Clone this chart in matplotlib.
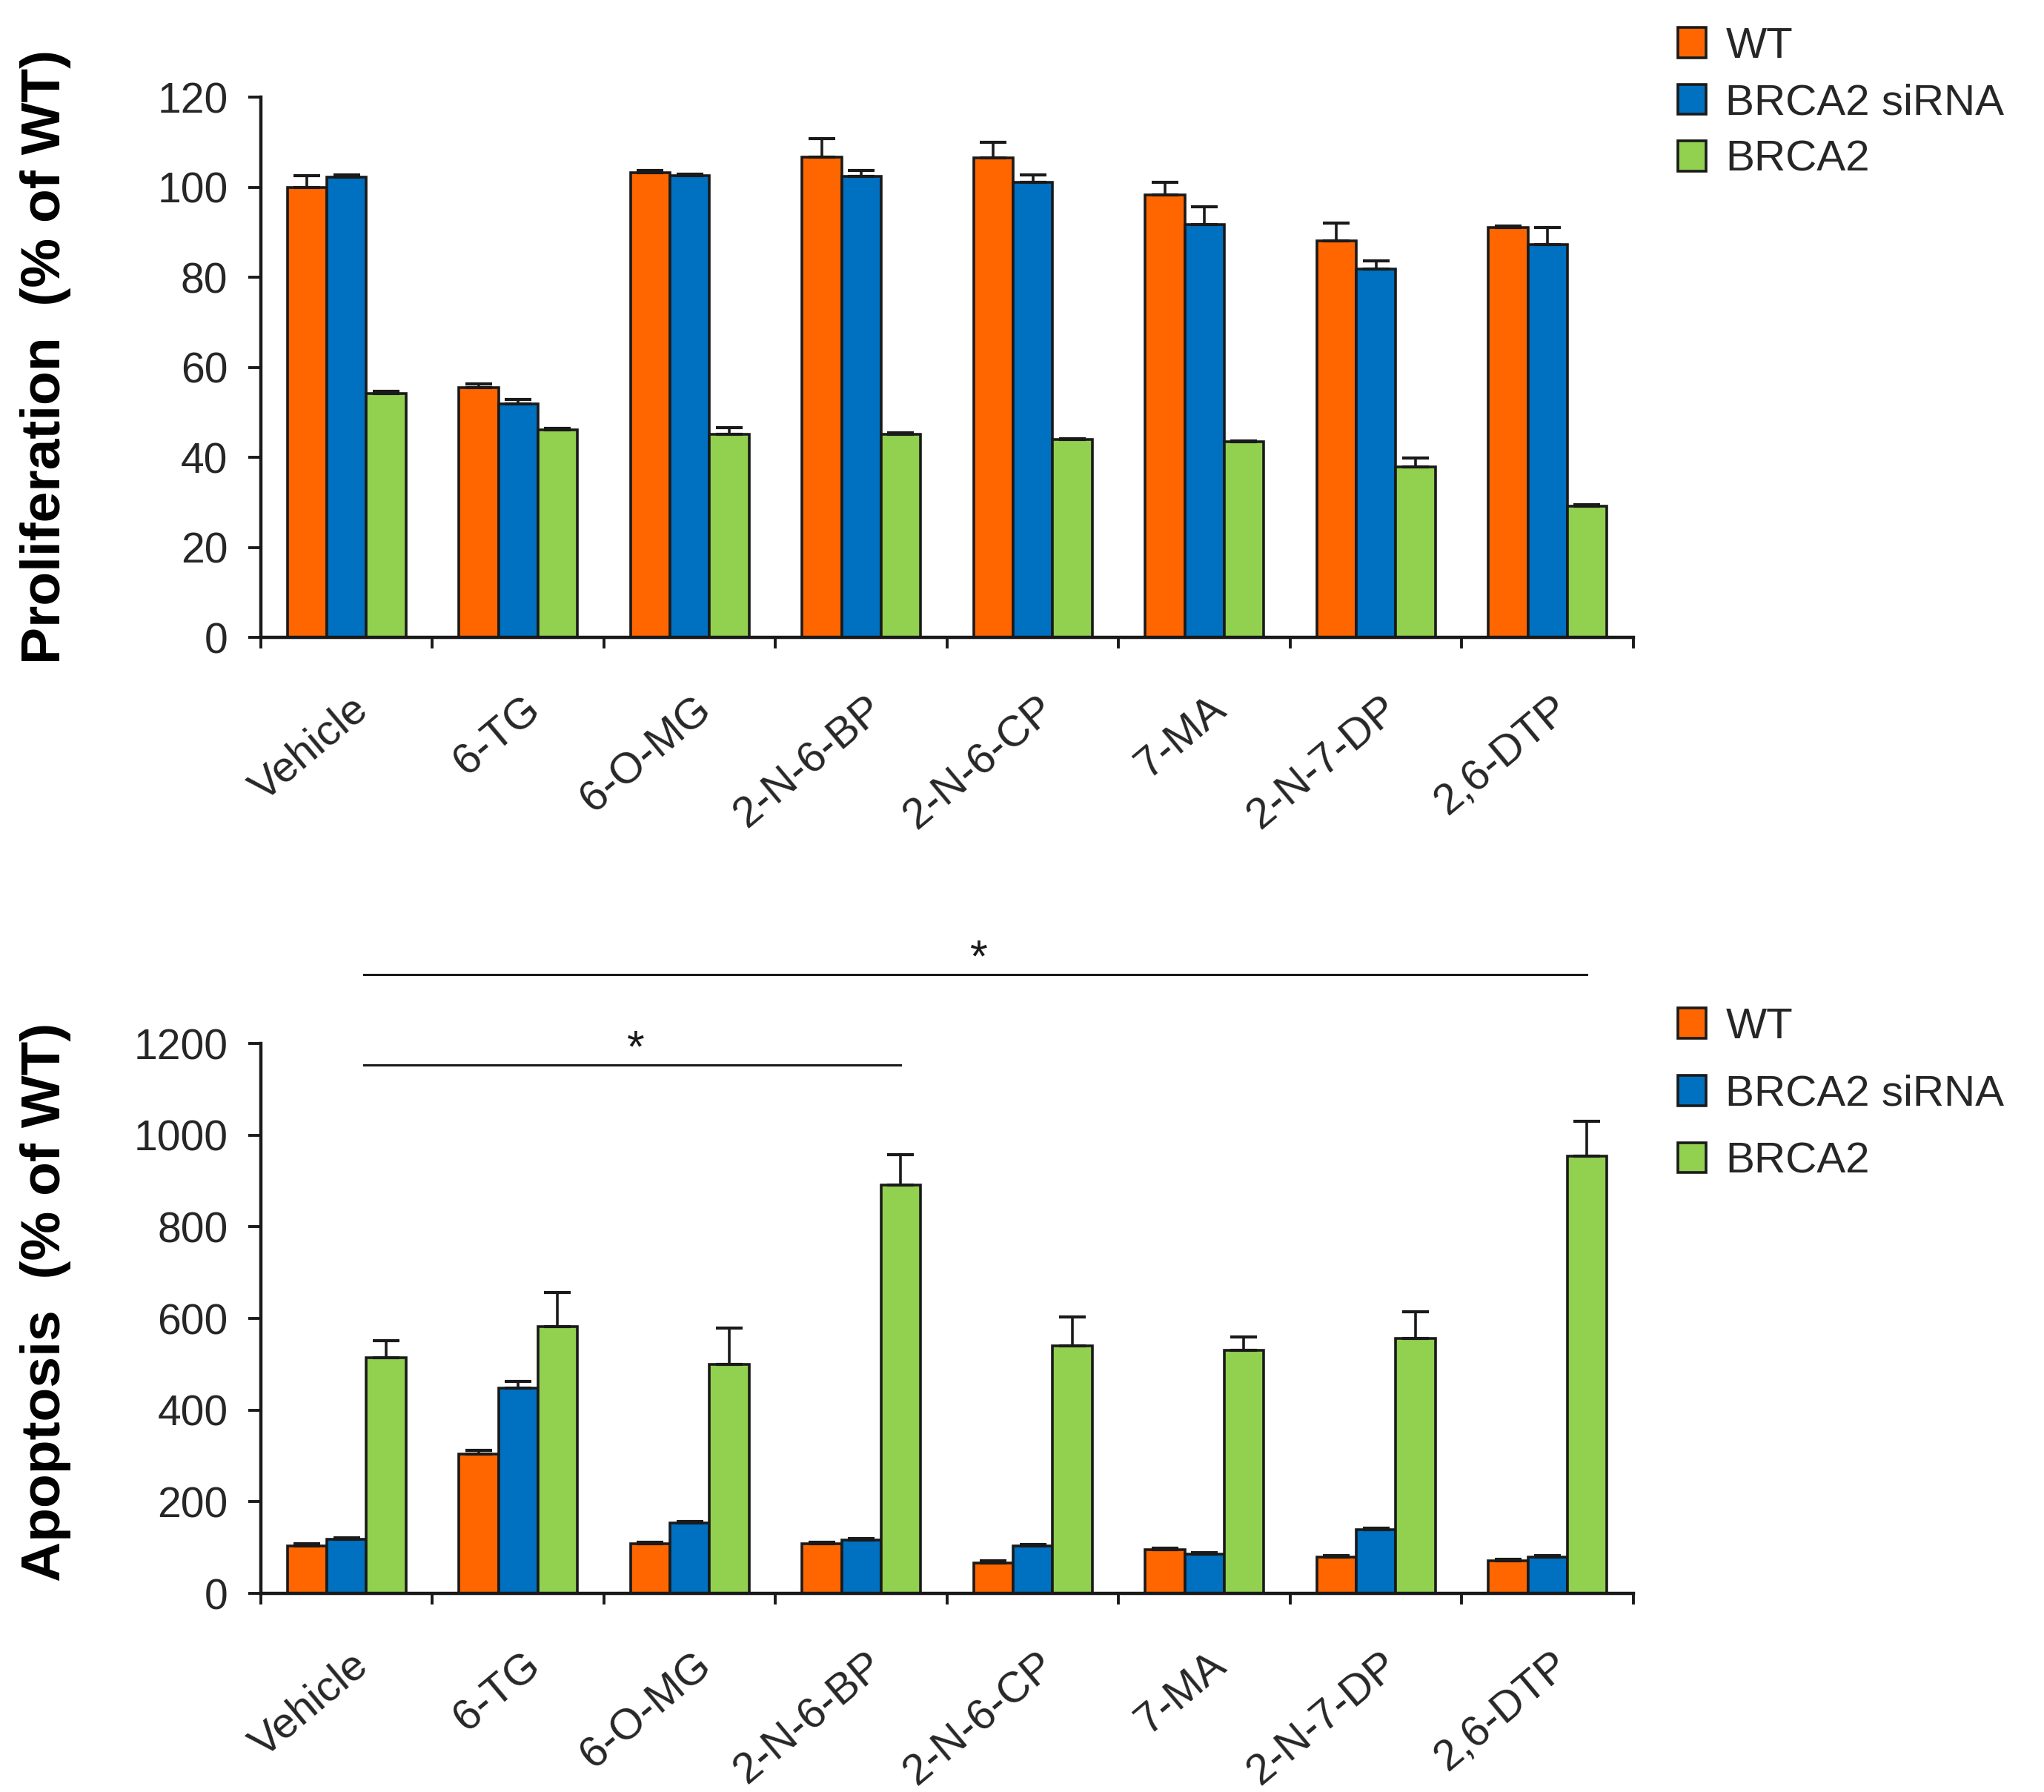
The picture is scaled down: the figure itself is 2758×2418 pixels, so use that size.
import numpy as np
import matplotlib
matplotlib.use("Agg")
import matplotlib.pyplot as plt
from matplotlib.patches import Patch
from matplotlib.transforms import ScaledTranslation

plt.rcParams['font.family'] = ['Liberation Sans', 'DejaVu Sans']

compounds = ["Vehicle", "6-TG", "6-O-MG", "2-N-6-BP", "2-N-6-CP", "7-MA", "2-N-7-DP", "2,6-DTP"]
series = ["WT", "BRCA2 siRNA", "BRCA2"]
colors = ["#FF6600", "#0070C0", "#92D050"]

# proliferation (% of WT)
prolif_wt = [100, 55.5, 103.3, 106.6, 106.5, 98.3, 88.0, 91.0]
prolif_wt_err = [2.6, 0.8, 0.4, 4.2, 3.4, 2.7, 4.1, 0.3]
prolif_si = [102.3, 51.9, 102.5, 102.4, 101.1, 91.7, 81.9, 87.2]
prolif_si_err = [0.5, 1.0, 0.4, 1.3, 1.7, 4.0, 1.7, 3.9]
prolif_br = [54.1, 46.1, 45.1, 45.1, 43.9, 43.4, 37.9, 29.2]
prolif_br_err = [0.6, 0.4, 1.5, 0.3, 0.3, 0.3, 2.0, 0.3]

# apoptosis (% of WT)
apop_wt = [103, 304, 108, 108, 67, 95, 80, 71]
apop_wt_err = [6, 8, 4, 4, 4, 3, 3, 3]
apop_si = [118, 448, 153, 116, 104, 86, 139, 80]
apop_si_err = [4, 15, 4, 3, 3, 3, 3, 3]
apop_br = [515, 582, 500, 891, 540, 530, 557, 955]
apop_br_err = [36, 75, 79, 67, 63, 30, 57, 75]

# significance brackets (apoptosis panel): start group, end group, height
sig_x0 = [0.1, 0.1]
sig_x1 = [3.23, 7.23]
sig_y = [1153, 1351]

fig = plt.figure(figsize=(13.79, 12.09), dpi=200)
ax1 = fig.add_axes([0.1276, 0.6443, 0.6715, 0.3015])
ax2 = fig.add_axes([0.1276, 0.1108, 0.6715, 0.3069])

x = np.arange(len(compounds))
w = 0.23
edge = "#1a1a1a"


def draw_panel(ax, vals, errs, ymax, step, ylabel, ylab_y):
    for k, (v, e) in enumerate(zip(vals, errs)):
        ax.bar(x + (k - 1) * w, v, w, color=colors[k], edgecolor=edge, linewidth=1.3,
               yerr=[np.zeros(len(e)), e], capsize=6.5,
               error_kw=dict(ecolor=edge, elinewidth=1.3, capthick=1.5), zorder=2)
    ax.set_xlim(-0.5, len(compounds) - 0.5)
    ax.set_ylim(0, ymax)
    ax.set_yticks(np.arange(0, ymax + 1, step))
    ax.spines[['top', 'right']].set_visible(False)
    for s in ['left', 'bottom']:
        ax.spines[s].set_linewidth(1.6)
        ax.spines[s].set_color(edge)
    ax.tick_params(axis='y', direction='out', length=6, width=1.4, pad=10,
                   labelsize=20.5, labelcolor='#262626', color=edge)
    ax.set_xticks(x)
    ax.set_xticks(np.arange(-0.5, len(compounds)), minor=True)
    ax.tick_params(axis='x', which='major', length=0, pad=25, labelsize=21,
                   labelcolor='#262626')
    ax.tick_params(axis='x', which='minor', direction='out', length=5.5, width=1.4, color=edge)
    ax.set_xticklabels(compounds, rotation=40, ha='right', va='top', rotation_mode='anchor')
    off = ScaledTranslation(0.025, 0, fig.dpi_scale_trans)
    for lab in ax.get_xticklabels():
        lab.set_transform(lab.get_transform() + off)
    ax.set_ylabel(ylabel, fontsize=27, fontweight='bold', va='center')
    ax.yaxis.set_label_coords(-0.157, ylab_y)


draw_panel(ax1, [prolif_wt, prolif_si, prolif_br], [prolif_wt_err, prolif_si_err, prolif_br_err],
           120, 20, "Proliferation  (% of WT)", 0.52)
draw_panel(ax2, [apop_wt, apop_si, apop_br], [apop_wt_err, apop_si_err, apop_br_err],
           1200, 200, "Apoptosis  (% of WT)", 0.53)

for a, b, yy in zip(sig_x0, sig_x1, sig_y):
    ax2.plot([a, b], [yy, yy], color=edge, lw=1.1, clip_on=False)
    ax2.text((a + b) / 2 + 0.02, yy - 14, "*", ha='center', va='bottom', fontsize=22, color=edge)

handles = [Patch(facecolor=c, edgecolor=edge, linewidth=1.3) for c in colors]
for top, sp in [(0.985, 0.38), (0.438, 0.63)]:
    fig.legend(handles, series, loc='upper left', bbox_to_anchor=(0.821, top),
               frameon=False, fontsize=21, handlelength=0.65, handleheight=0.7,
               handletextpad=0.45, labelspacing=sp, borderpad=0, borderaxespad=0,
               labelcolor='#262626')

fig.savefig("out.png", dpi=200)
